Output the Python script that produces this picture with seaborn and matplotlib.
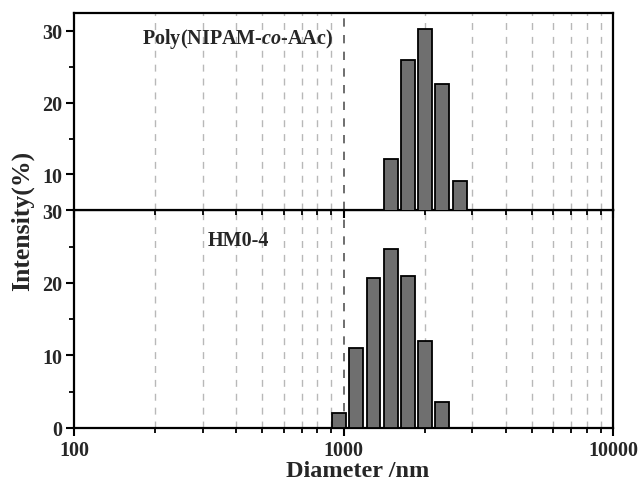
import numpy as np
import pandas as pd
import matplotlib
matplotlib.use("Agg")
import matplotlib.pyplot as plt
from matplotlib.ticker import FixedLocator, LogLocator, NullFormatter, FixedFormatter
import seaborn as sns

# ---- data ----
top_diam = [1494, 1730, 2012, 2320, 2694]
top_int = [12.1, 25.9, 30.3, 22.6, 9.1]
bot_diam = [961, 1116, 1292, 1494, 1730, 2012, 2320]
bot_int = [2.1, 11.0, 20.7, 24.7, 20.9, 12.0, 3.6]
top_label = r"Poly(NIPAM-$\mathit{co}$-AAc)"
bot_label = "HM0-4"
x_major = [100, 1000, 10000]
x_major_labels = ["100", "1000", "10000"]

sns.set_theme(style="white")
plt.rcParams["font.family"] = ["Liberation Serif", "DejaVu Serif"]
plt.rcParams["font.weight"] = "bold"
plt.rcParams["mathtext.fontset"] = "custom"
plt.rcParams["mathtext.rm"] = "Liberation Serif:bold"
plt.rcParams["mathtext.it"] = "Liberation Serif:italic:bold"

W, H = 640, 485
fig = plt.figure(figsize=(W / 100, H / 100), dpi=100)
L, R = 74 / W, 613 / W
sep = 1 - 211.3 / H
ax_b = fig.add_axes([L, 1 - 429 / H, R - L, sep - (1 - 429 / H)])
ax_t = fig.add_axes([L, sep, R - L, (1 - 14 / H) - sep])

all_diam = sorted(set(top_diam) | set(bot_diam))
logc = np.log10(all_diam)
step = np.mean(np.diff(logc))
edges = [float(e) for e in np.concatenate([logc - step / 2, [logc[-1] + step / 2]])]

bar_color = "#6f6f6f"
for ax, d, v in [(ax_t, top_diam, top_int), (ax_b, bot_diam, bot_int)]:
    df = pd.DataFrame({"d": d, "v": v})
    sns.histplot(data=df, x="d", weights="v", bins=edges, log_scale=True,
                 shrink=0.81, color=bar_color, edgecolor="black",
                 linewidth=1.3, alpha=1, ax=ax, zorder=3)
    ax.set_xlim(100, 10000)
    ax.xaxis.set_major_locator(FixedLocator(x_major))
    ax.xaxis.set_major_formatter(FixedFormatter(x_major_labels))
    ax.xaxis.set_minor_locator(LogLocator(base=10, subs=np.arange(2, 10)))
    ax.xaxis.set_minor_formatter(NullFormatter())
    ax.grid(False)
    ax.grid(True, axis="x", which="minor", color="#b8b8b8",
            linestyle=(0, (5, 5)), linewidth=1.0, zorder=0)
    ax.grid(True, axis="x", which="major", color="#555555",
            linestyle=(0, (5, 5)), linewidth=1.2, zorder=0)
    ax.set_axisbelow(True)
    for s in ax.spines.values():
        s.set_visible(True)
        s.set_color("black")
        s.set_linewidth(1.6)
    ax.tick_params(axis="both", which="major", direction="out", length=6,
                   width=1.5, color="black", labelsize=14.5, bottom=True, left=True,
                   pad=2.5)
    ax.tick_params(axis="both", which="minor", direction="out", length=3.5,
                   width=1.3, color="black", bottom=True, left=True)
    ax.set_xlabel("")
    ax.set_ylabel("")
    ax.set_facecolor("white")

ax_t.set_ylim(5, 32.5)
ax_t.yaxis.set_major_locator(FixedLocator([10, 20, 30]))
ax_t.yaxis.set_minor_locator(FixedLocator([15, 25]))
ax_t.tick_params(axis="x", which="both", labelbottom=False)

ax_b.set_ylim(0, 30)
ax_b.yaxis.set_major_locator(FixedLocator([0, 10, 20, 30]))
ax_b.yaxis.set_minor_locator(FixedLocator([5, 15, 25]))

for ax in (ax_t, ax_b):
    for lab in ax.get_xticklabels() + ax.get_yticklabels():
        lab.set_fontweight("bold")

ax_t.text(142 / W, 1 - 39 / H, top_label, transform=fig.transFigure,
          fontsize=14.5, fontweight="bold", ha="left", va="center")
ax_b.text(208 / W, 1 - 241 / H, bot_label, transform=fig.transFigure,
          fontsize=14.5, fontweight="bold", ha="left", va="center")

fig.text(358 / W, 1 - 477 / H, "Diameter /nm", fontsize=17.5, fontweight="bold",
         ha="center", va="baseline")
fig.text(22 / W, 1 - 221 / H, "Intensity(%)", fontsize=18.5, fontweight="bold",
         ha="center", va="center", rotation=90)

fig.savefig("out.png", dpi=100, facecolor="white")
